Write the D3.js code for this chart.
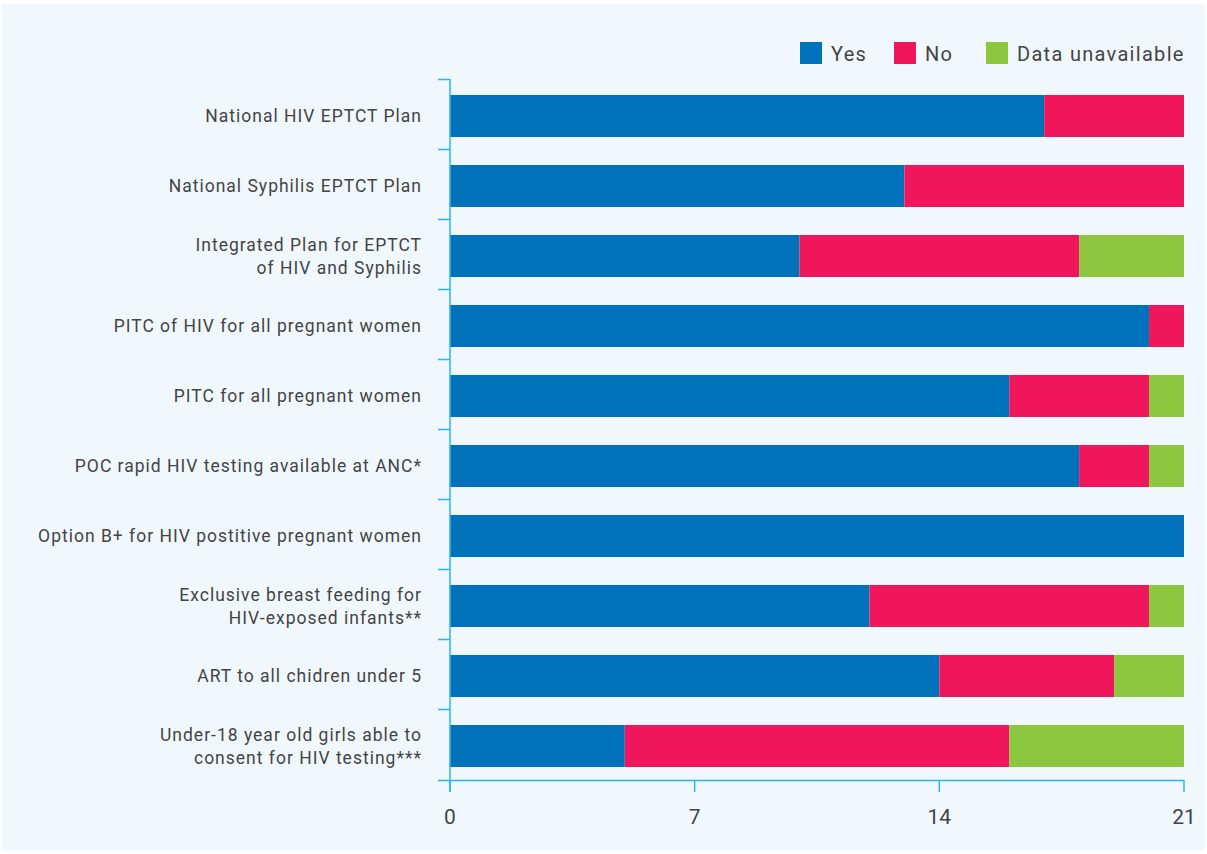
<!DOCTYPE html>
<html>
<head>
<meta charset="utf-8">
<script src="https://cdn.jsdelivr.net/npm/d3@7"></script>
<style>
  body { margin: 0; background: #fff; }
  text { font-family: Roboto, "Noto Sans", sans-serif; fill: #444; }
</style>
</head>
<body>
<svg id="chart"></svg>
<script>
var categories = [
  ["National HIV EPTCT Plan"],
  ["National Syphilis EPTCT Plan"],
  ["Integrated Plan for EPTCT", "of HIV and Syphilis"],
  ["PITC of HIV for all pregnant women"],
  ["PITC for all pregnant women"],
  ["POC rapid HIV testing available at ANC*"],
  ["Option B+ for HIV postitive pregnant women"],
  ["Exclusive breast feeding for", "HIV-exposed infants**"],
  ["ART to all chidren under 5"],
  ["Under-18 year old girls able to", "consent for HIV testing***"]
];
var yesValues = [17, 13, 10, 20, 16, 18, 21, 12, 14, 5];
var noValues = [4, 8, 8, 1, 4, 2, 0, 8, 5, 11];
var unavailableValues = [0, 0, 3, 0, 1, 1, 0, 1, 2, 5];
var seriesNames = ["Yes", "No", "Data unavailable"];
var seriesColors = ["#0072bc", "#ef165c", "#8dc63f"];
var xTicks = [0, 7, 14, 21];

var w = 1207;
var h = 854;

var svg = d3.select("#chart")
  .attr("width", w)
  .attr("height", h);

svg.append("rect")
  .attr("x", 2).attr("y", 4)
  .attr("width", 1203).attr("height", 846)
  .attr("fill", "#f0f8fe");

var rows = categories.map(function(c, i) {
  return {id: i, Yes: yesValues[i], No: noValues[i], "Data unavailable": unavailableValues[i]};
});

var x = d3.scaleLinear().domain([0, 21]).range([450, 1184]);
var y = d3.scaleBand()
  .domain(d3.range(categories.length))
  .range([81, 781])
  .paddingInner(0.4)
  .paddingOuter(0.2);

var stack = d3.stack().keys(seriesNames)(rows);

svg.append("g")
  .selectAll("g")
  .data(stack)
  .enter()
  .append("g")
  .attr("fill", function(d, i) { return seriesColors[i]; })
  .selectAll("rect")
  .data(function(d) { return d; })
  .enter()
  .append("rect")
  .attr("x", function(d) { return x(d[0]); })
  .attr("y", function(d, i) { return y(i); })
  .attr("width", function(d) { return x(d[1]) - x(d[0]); })
  .attr("height", y.bandwidth());

// axes
var axisColor = "#29b6ef";
var ax = svg.append("g");
ax.append("line")
  .attr("x1", x(0)).attr("x2", x(0))
  .attr("y1", 79).attr("y2", 792)
  .attr("stroke", axisColor).attr("stroke-width", 1.5);
ax.append("line")
  .attr("x1", 438).attr("x2", x(21))
  .attr("y1", 780.5).attr("y2", 780.5)
  .attr("stroke", axisColor).attr("stroke-width", 1.5);
ax.selectAll(".ytick")
  .data(d3.range(categories.length))
  .enter()
  .append("line")
  .attr("x1", 438).attr("x2", x(0))
  .attr("y1", function(d) { return y(d) - 15.5; })
  .attr("y2", function(d) { return y(d) - 15.5; })
  .attr("stroke", axisColor).attr("stroke-width", 1.5);
ax.selectAll(".xtick")
  .data(xTicks)
  .enter()
  .append("line")
  .attr("x1", function(d) { return x(d); })
  .attr("x2", function(d) { return x(d); })
  .attr("y1", 780).attr("y2", 792)
  .attr("stroke", axisColor).attr("stroke-width", 1.5);
ax.selectAll(".xlabel")
  .data(xTicks)
  .enter()
  .append("text")
  .attr("x", function(d) { return x(d); })
  .attr("y", 824)
  .attr("text-anchor", "middle")
  .attr("font-size", 21)
  .text(function(d) { return d; });

// category labels
var labels = svg.append("g")
  .selectAll("text")
  .data(categories)
  .enter()
  .append("text")
  .attr("text-anchor", "end")
  .attr("font-size", 17.5)
  .attr("letter-spacing", 1.0)
  .attr("transform", function(d, i) {
    return "translate(422," + (y(i) + y.bandwidth() / 2) + ")";
  });
labels.selectAll("tspan")
  .data(function(d) { return d; })
  .enter()
  .append("tspan")
  .attr("x", 0)
  .attr("y", function(d, i, n) { return (i - (n.length - 1) / 2) * 23 + 6; })
  .text(function(d) { return d; });

// legend
var legendX = [800, 894, 986];
var legend = svg.append("g")
  .selectAll("g")
  .data(seriesNames)
  .enter()
  .append("g")
  .attr("transform", function(d, i) { return "translate(" + legendX[i] + ",42)"; });
legend.append("rect")
  .attr("width", 22).attr("height", 22)
  .attr("fill", function(d, i) { return seriesColors[i]; });
legend.append("text")
  .attr("x", 31).attr("y", 19)
  .attr("font-size", 20)
  .attr("letter-spacing", 1.3)
  .text(function(d) { return d; });
</script>
</body>
</html>
